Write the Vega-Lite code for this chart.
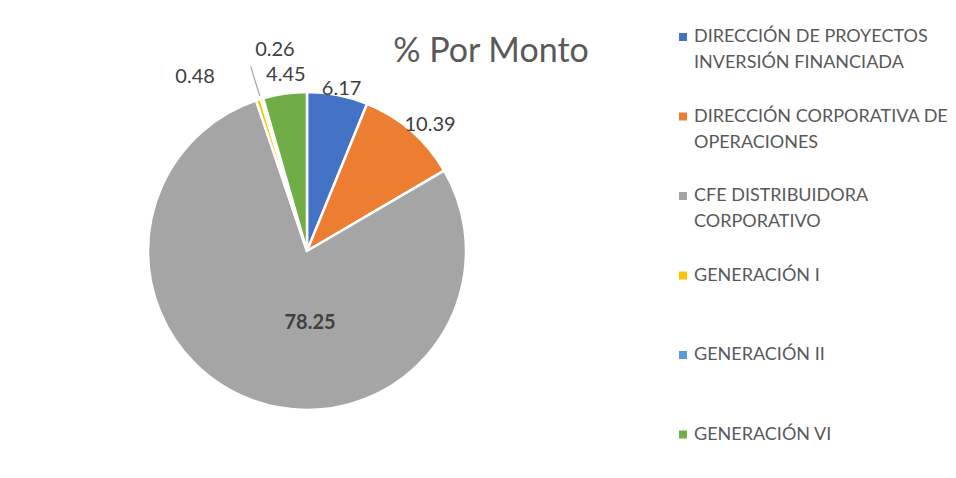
{
  "$schema": "https://vega.github.io/schema/vega-lite/v6.json",
  "autosize": "none",
  "padding": {"left": 0, "top": 24, "right": 342, "bottom": 0},
  "width": 614,
  "height": 454,
  "background": "white",
  "title": {
    "text": "% Por Monto",
    "font": "Lato",
    "fontSize": 34,
    "fontWeight": "normal",
    "color": "#595959",
    "anchor": "middle",
    "baseline": "alphabetic",
    "offset": 0,
    "dx": 184,
    "dy": 72
  },
  "data": {
    "values": [
      {"unidad": "DIRECCIÓN DE PROYECTOS\nINVERSIÓN FINANCIADA", "valor": 6.17, "orden": 1},
      {"unidad": "DIRECCIÓN CORPORATIVA DE\nOPERACIONES", "valor": 10.39, "orden": 2},
      {"unidad": "CFE DISTRIBUIDORA\nCORPORATIVO", "valor": 78.25, "orden": 3},
      {"unidad": "GENERACIÓN I", "valor": 0.48, "orden": 4},
      {"unidad": "GENERACIÓN II", "valor": 0.26, "orden": 5},
      {"unidad": "GENERACIÓN VI", "valor": 4.45, "orden": 6}
    ]
  },
  "encoding": {
    "theta": {"field": "valor", "type": "quantitative", "stack": true},
    "order": {"field": "orden", "type": "quantitative"}
  },
  "layer": [
    {
      "mark": {"type": "arc", "outerRadius": 159, "stroke": "white", "strokeWidth": 2.5},
      "encoding": {
        "color": {
          "field": "unidad",
          "type": "nominal",
          "scale": {
            "domain": [
              "DIRECCIÓN DE PROYECTOS\nINVERSIÓN FINANCIADA",
              "DIRECCIÓN CORPORATIVA DE\nOPERACIONES",
              "CFE DISTRIBUIDORA\nCORPORATIVO",
              "GENERACIÓN I",
              "GENERACIÓN II",
              "GENERACIÓN VI"
            ],
            "range": ["#4472C4", "#ED7D31", "#A5A5A5", "#FFC000", "#5B9BD5", "#70AD47"]
          },
          "legend": {
            "title": null,
            "orient": "none",
            "legendX": 674,
            "legendY": 4,
            "symbolType": "square",
            "symbolSize": 64,
            "symbolStrokeWidth": 0,
            "labelFont": "Lato",
            "labelFontSize": 18,
            "labelColor": "#595959",
            "labelLimit": 320,
            "labelOffset": 2,
            "gridAlign": "all",
            "rowPadding": 35.5,
            "labelExpr": "split(datum.label, '\\n')"
          }
        }
      }
    },
    {
      "transform": [
        {"stack": "valor", "groupby": [], "sort": [{"field": "orden", "order": "ascending"}], "as": ["v0", "v1"]},
        {"filter": "datum.orden == 5"}
      ],
      "mark": {"type": "arc", "filled": false, "stroke": "#A6A6A6", "strokeWidth": 1.2, "innerRadius": 162, "outerRadius": 193},
      "encoding": {
        "theta": {"field": "v0", "type": "quantitative"},
        "theta2": {"field": "v0"}
      }
    },
    {
      "mark": {"type": "text", "radius": 166, "thetaOffset": 0.016, "font": "Lato", "fontSize": 20, "color": "#404040"},
      "encoding": {"text": {"condition": {"test": "datum.orden == 1", "field": "valor", "type": "quantitative", "format": ".2f"}, "value": ""}}
    },
    {
      "mark": {"type": "text", "radius": 176, "thetaOffset": 0.06, "font": "Lato", "fontSize": 20, "color": "#404040"},
      "encoding": {"text": {"condition": {"test": "datum.orden == 2", "field": "valor", "type": "quantitative", "format": ".2f"}, "value": ""}}
    },
    {
      "mark": {"type": "text", "radius": 177, "thetaOffset": 0.02, "font": "Lato", "fontSize": 20, "color": "#404040"},
      "encoding": {"text": {"condition": {"test": "datum.orden == 6", "field": "valor", "type": "quantitative", "format": ".2f"}, "value": ""}}
    },
    {
      "mark": {"type": "text", "radius": 72, "thetaOffset": -0.4, "font": "Lato", "fontSize": 20, "fontWeight": "bold", "color": "#404040"},
      "encoding": {"text": {"condition": {"test": "datum.orden == 3", "field": "valor", "type": "quantitative", "format": ".2f"}, "value": ""}}
    },
    {
      "mark": {"type": "text", "radius": 207, "thetaOffset": -0.26, "font": "Lato", "fontSize": 20, "color": "#404040"},
      "encoding": {"text": {"condition": {"test": "datum.orden == 4", "field": "valor", "type": "quantitative", "format": ".2f"}, "value": ""}}
    },
    {
      "mark": {"type": "text", "radius": 204, "thetaOffset": 0.13, "font": "Lato", "fontSize": 20, "color": "#404040"},
      "encoding": {"text": {"condition": {"test": "datum.orden == 5", "field": "valor", "type": "quantitative", "format": ".2f"}, "value": ""}}
    }
  ],
  "config": {
    "view": {"stroke": null},
    "style": {"guide-label": {"lineHeight": 26}}
  }
}
